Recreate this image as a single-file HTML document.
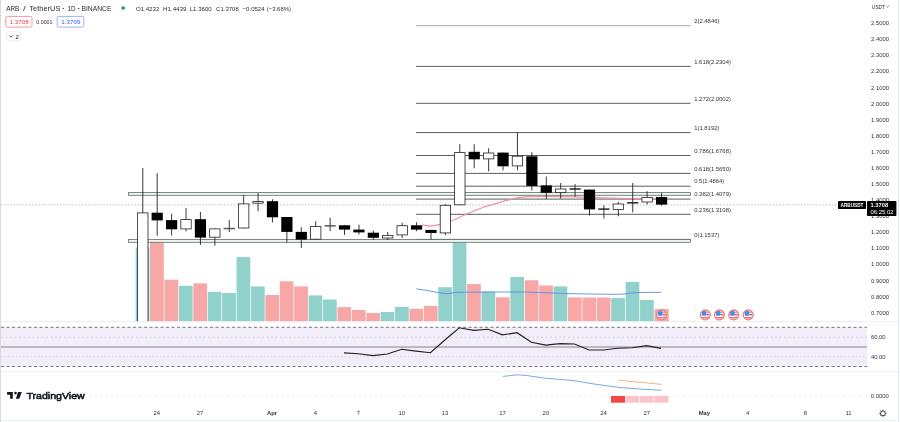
<!DOCTYPE html>
<html><head><meta charset="utf-8"><title>ARBUSDT chart</title>
<style>
html,body{margin:0;padding:0;background:#fff;width:900px;height:422px;overflow:hidden}
svg{display:block;will-change:transform}
text{font-family:"Liberation Sans", Arial, sans-serif}
</style></head><body>
<svg width="900" height="422" viewBox="0 0 900 422">
<rect x="0" y="0" width="900" height="422" fill="#ffffff"/>

<defs><clipPath id="mainclip"><rect x="1" y="0" width="866" height="321.5"/></clipPath></defs>
<g clip-path="url(#mainclip)">
<rect x="135.69" y="247.60" width="13.7" height="73.90" fill="#91d1cb"/>
<rect x="150.10" y="242.00" width="13.7" height="79.50" fill="#f7a7a6"/>
<rect x="164.51" y="279.70" width="13.7" height="41.80" fill="#f7a7a6"/>
<rect x="178.92" y="285.80" width="13.7" height="35.70" fill="#91d1cb"/>
<rect x="193.33" y="283.30" width="13.7" height="38.20" fill="#f7a7a6"/>
<rect x="207.74" y="291.80" width="13.7" height="29.70" fill="#91d1cb"/>
<rect x="222.15" y="293.00" width="13.7" height="28.50" fill="#91d1cb"/>
<rect x="236.56" y="257.10" width="13.7" height="64.40" fill="#91d1cb"/>
<rect x="250.97" y="286.40" width="13.7" height="35.10" fill="#91d1cb"/>
<rect x="265.38" y="295.00" width="13.7" height="26.50" fill="#f7a7a6"/>
<rect x="279.79" y="281.30" width="13.7" height="40.20" fill="#f7a7a6"/>
<rect x="294.20" y="286.40" width="13.7" height="35.10" fill="#f7a7a6"/>
<rect x="308.61" y="295.40" width="13.7" height="26.10" fill="#91d1cb"/>
<rect x="323.02" y="299.50" width="13.7" height="22.00" fill="#91d1cb"/>
<rect x="337.43" y="307.10" width="13.7" height="14.40" fill="#f7a7a6"/>
<rect x="351.84" y="310.00" width="13.7" height="11.50" fill="#f7a7a6"/>
<rect x="366.25" y="313.00" width="13.7" height="8.50" fill="#f7a7a6"/>
<rect x="380.66" y="312.00" width="13.7" height="9.50" fill="#91d1cb"/>
<rect x="395.07" y="306.90" width="13.7" height="14.60" fill="#91d1cb"/>
<rect x="409.48" y="308.80" width="13.7" height="12.70" fill="#f7a7a6"/>
<rect x="423.89" y="305.90" width="13.7" height="15.60" fill="#f7a7a6"/>
<rect x="438.30" y="287.20" width="13.7" height="34.30" fill="#91d1cb"/>
<rect x="452.71" y="242.50" width="13.7" height="79.00" fill="#91d1cb"/>
<rect x="467.12" y="284.00" width="13.7" height="37.50" fill="#f7a7a6"/>
<rect x="481.53" y="291.50" width="13.7" height="30.00" fill="#91d1cb"/>
<rect x="495.94" y="297.30" width="13.7" height="24.20" fill="#f7a7a6"/>
<rect x="510.35" y="277.00" width="13.7" height="44.50" fill="#91d1cb"/>
<rect x="524.76" y="280.20" width="13.7" height="41.30" fill="#f7a7a6"/>
<rect x="539.17" y="285.50" width="13.7" height="36.00" fill="#f7a7a6"/>
<rect x="553.58" y="286.40" width="13.7" height="35.10" fill="#91d1cb"/>
<rect x="567.99" y="297.40" width="13.7" height="24.10" fill="#f7a7a6"/>
<rect x="582.40" y="297.50" width="13.7" height="24.00" fill="#f7a7a6"/>
<rect x="596.81" y="297.50" width="13.7" height="24.00" fill="#f7a7a6"/>
<rect x="611.22" y="298.10" width="13.7" height="23.40" fill="#91d1cb"/>
<rect x="625.63" y="281.90" width="13.7" height="39.60" fill="#91d1cb"/>
<rect x="640.04" y="300.00" width="13.7" height="21.50" fill="#91d1cb"/>
<rect x="654.45" y="309.20" width="13.7" height="12.30" fill="#f7a7a6"/>
<polyline points="416.2,288.8 428.0,290.6 438.9,292.7 446.7,293.6 451.0,293.2 456.0,292.4 470.0,292.1 500.0,292.0 524.5,292.0 545.0,292.7 568.0,293.6 595.0,294.1 617.8,294.3 624.0,294.0 630.2,293.0 640.0,292.5 661.4,292.3" fill="none" stroke="#5a8de6" stroke-width="0.9"/>
<line x1="416" y1="25.6" x2="690.6" y2="25.6" stroke="#b8b8b8" stroke-width="1.3"/>
<line x1="416" y1="66.4" x2="690.6" y2="66.4" stroke="#4a4a4a" stroke-width="0.9"/>
<line x1="416" y1="103.3" x2="690.6" y2="103.3" stroke="#4a4a4a" stroke-width="0.9"/>
<line x1="416" y1="132.6" x2="690.6" y2="132.6" stroke="#4a4a4a" stroke-width="0.9"/>
<line x1="416" y1="155.5" x2="690.6" y2="155.5" stroke="#4a4a4a" stroke-width="0.9"/>
<line x1="416" y1="173.4" x2="690.6" y2="173.4" stroke="#4a4a4a" stroke-width="0.9"/>
<line x1="416" y1="186.2" x2="690.6" y2="186.2" stroke="#4a4a4a" stroke-width="0.9"/>
<line x1="416" y1="199.1" x2="690.6" y2="199.1" stroke="#4a4a4a" stroke-width="0.9"/>
<line x1="416" y1="214.3" x2="690.6" y2="214.3" stroke="#4a4a4a" stroke-width="0.9"/>
<line x1="416" y1="239.4" x2="690.6" y2="239.4" stroke="#4a4a4a" stroke-width="0.9"/>
<text x="694.2" y="22.8" font-size="5.9" fill="#333">2(2.4846)</text>
<text x="694.2" y="63.6" font-size="5.9" fill="#333">1.618(2.2304)</text>
<text x="694.2" y="100.5" font-size="5.9" fill="#333">1.272(2.0002)</text>
<text x="694.2" y="129.8" font-size="5.9" fill="#333">1(1.8192)</text>
<text x="694.2" y="152.7" font-size="5.9" fill="#333">0.786(1.6768)</text>
<text x="694.2" y="170.6" font-size="5.9" fill="#333">0.618(1.5650)</text>
<text x="694.2" y="183.4" font-size="5.9" fill="#333">0.5(1.4864)</text>
<text x="694.2" y="196.3" font-size="5.9" fill="#333">0.382(1.4079)</text>
<text x="694.2" y="211.5" font-size="5.9" fill="#333">0.236(1.3108)</text>
<text x="694.2" y="236.6" font-size="5.9" fill="#333">0(1.1537)</text>
<rect x="128.5" y="192.6" width="562" height="2.7" fill="#eef5f0" stroke="#5f6e66" stroke-width="0.8"/>
<rect x="128.5" y="239.5" width="562" height="2.8" fill="#eef5f0" stroke="#5f6e66" stroke-width="0.8"/>
<polyline points="422.1,225.1 430.2,226.2 439.5,224.7 452.0,220.8 466.0,214.2 484.6,206.8 503.3,201.3 518.9,197.4 534.4,196.4 550.0,196.3 575.0,196.8 596.0,197.6 620.0,198.4 640.0,198.9 661.0,199.1" fill="none" stroke="#ee8fa3" stroke-width="1.2"/>
<line x1="1" y1="204.9" x2="838" y2="204.9" stroke="#b4b4b4" stroke-width="0.8" stroke-dasharray="1.6,1.5"/>
<line x1="142.79" y1="168.1" x2="142.79" y2="330.0" stroke="#222" stroke-width="0.9"/>
<rect x="137.59" y="212.9" width="10.4" height="116.7" fill="#fff" stroke="#222" stroke-width="0.8"/>
<line x1="157.20" y1="173.2" x2="157.20" y2="235.8" stroke="#222" stroke-width="0.9"/>
<rect x="151.60" y="212.7" width="11.2" height="7.7" fill="#000"/>
<line x1="171.61" y1="213.8" x2="171.61" y2="235.5" stroke="#222" stroke-width="0.9"/>
<rect x="166.01" y="220.1" width="11.2" height="9.2" fill="#000"/>
<line x1="186.02" y1="208.0" x2="186.02" y2="231.5" stroke="#222" stroke-width="0.9"/>
<rect x="180.82" y="219.6" width="10.4" height="9.3" fill="#fff" stroke="#222" stroke-width="0.8"/>
<line x1="200.43" y1="212.0" x2="200.43" y2="245.0" stroke="#222" stroke-width="0.9"/>
<rect x="194.83" y="219.2" width="11.2" height="18.4" fill="#000"/>
<line x1="214.84" y1="228.5" x2="214.84" y2="245.8" stroke="#222" stroke-width="0.9"/>
<rect x="209.64" y="228.9" width="10.4" height="8.3" fill="#fff" stroke="#222" stroke-width="0.8"/>
<line x1="229.25" y1="220.0" x2="229.25" y2="232.0" stroke="#222" stroke-width="0.9"/>
<rect x="223.65" y="227.8" width="11.2" height="1.5" fill="#5a5a5a"/>
<line x1="243.66" y1="195.0" x2="243.66" y2="228.4" stroke="#222" stroke-width="0.9"/>
<rect x="238.46" y="203.9" width="10.4" height="24.1" fill="#fff" stroke="#222" stroke-width="0.8"/>
<line x1="258.07" y1="193.0" x2="258.07" y2="211.2" stroke="#222" stroke-width="0.9"/>
<rect x="252.87" y="201.6" width="10.4" height="1.5" fill="#fff" stroke="#222" stroke-width="0.8"/>
<line x1="272.48" y1="199.2" x2="272.48" y2="222.4" stroke="#222" stroke-width="0.9"/>
<rect x="266.88" y="201.2" width="11.2" height="16.1" fill="#000"/>
<line x1="286.89" y1="217.0" x2="286.89" y2="242.2" stroke="#222" stroke-width="0.9"/>
<rect x="281.29" y="217.0" width="11.2" height="14.9" fill="#000"/>
<line x1="301.30" y1="227.3" x2="301.30" y2="248.0" stroke="#222" stroke-width="0.9"/>
<rect x="295.70" y="231.9" width="11.2" height="7.7" fill="#000"/>
<line x1="315.71" y1="221.2" x2="315.71" y2="240.0" stroke="#222" stroke-width="0.9"/>
<rect x="310.51" y="226.6" width="10.4" height="12.6" fill="#fff" stroke="#222" stroke-width="0.8"/>
<line x1="330.12" y1="217.6" x2="330.12" y2="231.2" stroke="#222" stroke-width="0.9"/>
<rect x="324.52" y="225.1" width="11.2" height="1.5" fill="#5a5a5a"/>
<line x1="344.53" y1="225.0" x2="344.53" y2="235.0" stroke="#222" stroke-width="0.9"/>
<rect x="338.93" y="225.3" width="11.2" height="4.3" fill="#000"/>
<line x1="358.94" y1="224.7" x2="358.94" y2="234.5" stroke="#222" stroke-width="0.9"/>
<rect x="353.34" y="229.6" width="11.2" height="2.8" fill="#000"/>
<line x1="373.35" y1="230.7" x2="373.35" y2="239.6" stroke="#222" stroke-width="0.9"/>
<rect x="367.75" y="232.7" width="11.2" height="5.1" fill="#000"/>
<line x1="387.76" y1="232.0" x2="387.76" y2="240.0" stroke="#222" stroke-width="0.9"/>
<rect x="382.56" y="235.4" width="10.4" height="2.6" fill="#fff" stroke="#222" stroke-width="0.8"/>
<line x1="402.17" y1="222.7" x2="402.17" y2="238.1" stroke="#222" stroke-width="0.9"/>
<rect x="396.97" y="225.7" width="10.4" height="9.2" fill="#fff" stroke="#222" stroke-width="0.8"/>
<line x1="416.58" y1="222.2" x2="416.58" y2="231.2" stroke="#222" stroke-width="0.9"/>
<rect x="410.98" y="225.3" width="11.2" height="4.3" fill="#000"/>
<line x1="430.99" y1="229.9" x2="430.99" y2="239.6" stroke="#222" stroke-width="0.9"/>
<rect x="425.39" y="229.9" width="11.2" height="3.1" fill="#000"/>
<line x1="445.40" y1="203.9" x2="445.40" y2="235.2" stroke="#222" stroke-width="0.9"/>
<rect x="440.20" y="205.3" width="10.4" height="27.6" fill="#fff" stroke="#222" stroke-width="0.8"/>
<line x1="459.81" y1="144.2" x2="459.81" y2="205.2" stroke="#222" stroke-width="0.9"/>
<rect x="454.61" y="152.6" width="10.4" height="52.2" fill="#fff" stroke="#222" stroke-width="0.8"/>
<line x1="474.22" y1="144.2" x2="474.22" y2="168.3" stroke="#222" stroke-width="0.9"/>
<rect x="468.62" y="151.8" width="11.2" height="7.5" fill="#000"/>
<line x1="488.63" y1="148.2" x2="488.63" y2="171.4" stroke="#222" stroke-width="0.9"/>
<rect x="483.43" y="153.0" width="10.4" height="5.9" fill="#fff" stroke="#222" stroke-width="0.8"/>
<line x1="503.04" y1="152.6" x2="503.04" y2="170.4" stroke="#222" stroke-width="0.9"/>
<rect x="497.44" y="152.6" width="11.2" height="13.7" fill="#000"/>
<line x1="517.45" y1="132.6" x2="517.45" y2="170.4" stroke="#222" stroke-width="0.9"/>
<rect x="512.25" y="156.2" width="10.4" height="9.7" fill="#fff" stroke="#222" stroke-width="0.8"/>
<line x1="531.86" y1="152.2" x2="531.86" y2="190.5" stroke="#222" stroke-width="0.9"/>
<rect x="526.26" y="156.3" width="11.2" height="29.6" fill="#000"/>
<line x1="546.27" y1="176.5" x2="546.27" y2="199.1" stroke="#222" stroke-width="0.9"/>
<rect x="540.67" y="185.4" width="11.2" height="7.4" fill="#000"/>
<line x1="560.68" y1="183.0" x2="560.68" y2="198.5" stroke="#222" stroke-width="0.9"/>
<rect x="555.48" y="189.0" width="10.4" height="3.5" fill="#fff" stroke="#222" stroke-width="0.8"/>
<line x1="575.09" y1="184.2" x2="575.09" y2="196.7" stroke="#222" stroke-width="0.9"/>
<rect x="569.49" y="188.3" width="11.2" height="1.4" fill="#1a1a1a"/>
<line x1="589.50" y1="189.6" x2="589.50" y2="215.6" stroke="#222" stroke-width="0.9"/>
<rect x="583.90" y="189.6" width="11.2" height="19.8" fill="#000"/>
<line x1="603.91" y1="205.2" x2="603.91" y2="218.5" stroke="#222" stroke-width="0.9"/>
<rect x="598.31" y="208.4" width="11.2" height="1.4" fill="#1a1a1a"/>
<line x1="618.32" y1="202.0" x2="618.32" y2="216.3" stroke="#222" stroke-width="0.9"/>
<rect x="613.12" y="204.0" width="10.4" height="5.4" fill="#fff" stroke="#222" stroke-width="0.8"/>
<line x1="632.73" y1="183.0" x2="632.73" y2="212.4" stroke="#222" stroke-width="0.9"/>
<rect x="627.13" y="202.1" width="11.2" height="1.4" fill="#1a1a1a"/>
<line x1="647.14" y1="191.2" x2="647.14" y2="204.5" stroke="#222" stroke-width="0.9"/>
<rect x="641.94" y="197.4" width="10.4" height="4.6" fill="#fff" stroke="#222" stroke-width="0.8"/>
<line x1="661.55" y1="192.9" x2="661.55" y2="205.7" stroke="#222" stroke-width="0.9"/>
<rect x="655.95" y="197.0" width="11.2" height="7.6" fill="#000"/>
</g>
<defs><clipPath id="fc"><circle cx="0" cy="0" r="4.1"/></clipPath></defs>
<rect x="655.2" y="309.2" width="13.5" height="12.3" fill="#f7a7a6"/>
<g><circle cx="661.6" cy="314.9" r="4.9" fill="#fff" stroke="#ec7a84" stroke-width="1.3"/><g clip-path="url(#fc)" transform="translate(661.6,314.9)"><rect x="1.2" y="-3.2" width="3" height="1" fill="#ef6a6a"/><rect x="1.2" y="-0.9" width="3" height="1.5" fill="#e65a50"/><rect x="-4" y="2.1" width="8" height="1.5" fill="#ef6a6a"/><rect x="-3.6" y="-3.8" width="4.7" height="4.6" rx="1.2" fill="#3d8fe6"/></g></g>
<g><circle cx="705.3" cy="314.9" r="4.9" fill="#fff" stroke="#ec7a84" stroke-width="1.3"/><g clip-path="url(#fc)" transform="translate(705.3,314.9)"><rect x="1.2" y="-3.2" width="3" height="1" fill="#ef6a6a"/><rect x="1.2" y="-0.9" width="3" height="1.5" fill="#e65a50"/><rect x="-4" y="2.1" width="8" height="1.5" fill="#ef6a6a"/><rect x="-3.6" y="-3.8" width="4.7" height="4.6" rx="1.2" fill="#3d8fe6"/></g></g>
<g><circle cx="719.4" cy="314.9" r="4.9" fill="#fff" stroke="#ec7a84" stroke-width="1.3"/><g clip-path="url(#fc)" transform="translate(719.4,314.9)"><rect x="1.2" y="-3.2" width="3" height="1" fill="#ef6a6a"/><rect x="1.2" y="-0.9" width="3" height="1.5" fill="#e65a50"/><rect x="-4" y="2.1" width="8" height="1.5" fill="#ef6a6a"/><rect x="-3.6" y="-3.8" width="4.7" height="4.6" rx="1.2" fill="#3d8fe6"/></g></g>
<g><circle cx="733.7" cy="314.9" r="4.9" fill="#fff" stroke="#ec7a84" stroke-width="1.3"/><g clip-path="url(#fc)" transform="translate(733.7,314.9)"><rect x="1.2" y="-3.2" width="3" height="1" fill="#ef6a6a"/><rect x="1.2" y="-0.9" width="3" height="1.5" fill="#e65a50"/><rect x="-4" y="2.1" width="8" height="1.5" fill="#ef6a6a"/><rect x="-3.6" y="-3.8" width="4.7" height="4.6" rx="1.2" fill="#3d8fe6"/></g></g>
<g><circle cx="748.2" cy="314.9" r="4.9" fill="#fff" stroke="#ec7a84" stroke-width="1.3"/><g clip-path="url(#fc)" transform="translate(748.2,314.9)"><rect x="1.2" y="-3.2" width="3" height="1" fill="#ef6a6a"/><rect x="1.2" y="-0.9" width="3" height="1.5" fill="#e65a50"/><rect x="-4" y="2.1" width="8" height="1.5" fill="#ef6a6a"/><rect x="-3.6" y="-3.8" width="4.7" height="4.6" rx="1.2" fill="#3d8fe6"/></g></g>
<rect x="1" y="327.3" width="866" height="39.2" fill="#f1edf9"/>
<line x1="1" y1="327.3" x2="867" y2="327.3" stroke="#555" stroke-width="0.8" stroke-dasharray="3,2.5"/>
<line x1="1" y1="366.5" x2="867" y2="366.5" stroke="#555" stroke-width="0.8" stroke-dasharray="3,2.5"/>
<line x1="1" y1="337.2" x2="867" y2="337.2" stroke="#c9c3d3" stroke-width="0.7" stroke-dasharray="2,2.5"/>
<line x1="1" y1="356.6" x2="867" y2="356.6" stroke="#c9c3d3" stroke-width="0.7" stroke-dasharray="1.2,2.5"/>
<line x1="1" y1="347" x2="867" y2="347" stroke="#a9a6b0" stroke-width="1.3"/>
<polyline points="344.0,352.9 358.4,353.8 372.9,355.6 387.3,354.0 401.7,349.3 416.1,351.1 430.5,352.7 444.9,340.0 459.3,327.8 473.7,330.4 488.1,329.3 502.5,334.9 517.0,332.7 531.4,342.2 545.8,345.1 560.2,343.6 574.6,344.0 589.0,350.0 603.4,350.0 617.8,348.2 632.2,347.8 646.6,345.6 661.0,348.4" fill="none" stroke="#222" stroke-width="1.15"/>
<line x1="1" y1="396" x2="867" y2="396" stroke="#e4e4e4" stroke-width="0.7" stroke-dasharray="2.5,3"/>
<polyline points="503.0,376.4 517.3,374.8 526.7,375.5 545.0,378.2 573.0,380.5 596.6,384.4 620.0,387.5 640.0,389.0 661.6,390.3" fill="none" stroke="#5b8ee6" stroke-width="0.8"/>
<polyline points="618.0,380.0 632.0,381.6 647.0,382.9 661.6,384.4" fill="none" stroke="#f5a25a" stroke-width="0.8"/>
<rect x="611" y="396" width="14" height="6.7" fill="#f44848"/>
<rect x="625.4" y="396" width="13.6" height="6.7" fill="#fbc4cc"/>
<rect x="639.8" y="396" width="13.8" height="6.7" fill="#fbc4cc"/>
<rect x="654.2" y="396" width="14.2" height="6.7" fill="#fbc4cc"/>
<rect x="1" y="389" width="88" height="14" fill="#fff"/>
<g fill="#131722"><path d="M7.1 391.9H12.8V398.8H10.1V394.7H7.1Z"/><circle cx="15.5" cy="393.1" r="1.3"/><path d="M18 391.9H21.8L19.3 398.8H15.9Z"/></g>
<text x="26.4" y="398.9" font-size="9.4" fill="#131722" stroke="#131722" stroke-width="0.55" textLength="58.4" lengthAdjust="spacingAndGlyphs">TradingView</text>
<line x1="0.5" y1="0" x2="0.5" y2="422" stroke="#d9dbe0" stroke-width="1"/>
<line x1="898.6" y1="0" x2="898.6" y2="422" stroke="#e0e3eb" stroke-width="1"/>
<line x1="1" y1="321.6" x2="898" y2="321.6" stroke="#e6e8ee" stroke-width="0.8"/>
<line x1="1" y1="371.8" x2="898" y2="371.8" stroke="#e6e8ee" stroke-width="0.8"/>
<line x1="1" y1="420.6" x2="898" y2="420.6" stroke="#e6e8ee" stroke-width="0.8"/>
<text x="872" y="8.6" font-size="5.6" fill="#131722" textLength="12.8" lengthAdjust="spacingAndGlyphs">USDT</text>
<path d="M886.4 6l1.2 1.2 1.2-1.2" fill="none" stroke="#131722" stroke-width="0.6"/>
<text x="871" y="25.2" font-size="5.9" fill="#333">2.5000</text>
<text x="871" y="41.3" font-size="5.9" fill="#333">2.4000</text>
<text x="871" y="57.4" font-size="5.9" fill="#333">2.3000</text>
<text x="871" y="73.4" font-size="5.9" fill="#333">2.2000</text>
<text x="871" y="89.5" font-size="5.9" fill="#333">2.1000</text>
<text x="871" y="105.6" font-size="5.9" fill="#333">2.0000</text>
<text x="871" y="121.7" font-size="5.9" fill="#333">1.9000</text>
<text x="871" y="137.8" font-size="5.9" fill="#333">1.8000</text>
<text x="871" y="153.8" font-size="5.9" fill="#333">1.7000</text>
<text x="871" y="169.9" font-size="5.9" fill="#333">1.6000</text>
<text x="871" y="186.0" font-size="5.9" fill="#333">1.5000</text>
<text x="871" y="202.1" font-size="5.9" fill="#333">1.4000</text>
<text x="871" y="218.2" font-size="5.9" fill="#333">1.3000</text>
<text x="871" y="234.2" font-size="5.9" fill="#333">1.2000</text>
<text x="871" y="250.3" font-size="5.9" fill="#333">1.1000</text>
<text x="871" y="266.4" font-size="5.9" fill="#333">1.0000</text>
<text x="871" y="282.5" font-size="5.9" fill="#333">0.9000</text>
<text x="871" y="298.6" font-size="5.9" fill="#333">0.8000</text>
<text x="871" y="314.6" font-size="5.9" fill="#333">0.7000</text>
<text x="870.9" y="339.4" font-size="5.9" fill="#333">60.00</text>
<text x="870.9" y="358.8" font-size="5.9" fill="#333">40.00</text>
<text x="870.8" y="398.1" font-size="5.9" fill="#333">0.0000</text>
<rect x="838" y="201" width="28" height="8" rx="0.8" fill="#000"/>
<text x="852" y="207.1" font-size="5.6" font-weight="bold" fill="#fff" text-anchor="middle" textLength="23" lengthAdjust="spacingAndGlyphs">ARBUSDT</text>
<rect x="867" y="201" width="29.4" height="15" rx="0.8" fill="#000"/>
<text x="870.5" y="207.1" font-size="5.9" font-weight="bold" fill="#fff" textLength="17.6" lengthAdjust="spacingAndGlyphs">1.3708</text>
<text x="870.5" y="214.2" font-size="5.9" fill="#fff">06:25:02</text>
<text x="156.8" y="414.6" font-size="5.9" fill="#333" text-anchor="middle">24</text>
<text x="200.0" y="414.6" font-size="5.9" fill="#333" text-anchor="middle">27</text>
<text x="272.1" y="414.6" font-size="5.9" fill="#333" text-anchor="middle" font-weight="bold">Apr</text>
<text x="315.3" y="414.6" font-size="5.9" fill="#333" text-anchor="middle">4</text>
<text x="358.5" y="414.6" font-size="5.9" fill="#333" text-anchor="middle">7</text>
<text x="401.8" y="414.6" font-size="5.9" fill="#333" text-anchor="middle">10</text>
<text x="445.0" y="414.6" font-size="5.9" fill="#333" text-anchor="middle">13</text>
<text x="502.6" y="414.6" font-size="5.9" fill="#333" text-anchor="middle">17</text>
<text x="545.9" y="414.6" font-size="5.9" fill="#333" text-anchor="middle">20</text>
<text x="603.5" y="414.6" font-size="5.9" fill="#333" text-anchor="middle">24</text>
<text x="646.7" y="414.6" font-size="5.9" fill="#333" text-anchor="middle">27</text>
<text x="704.4" y="414.6" font-size="5.9" fill="#333" text-anchor="middle" font-weight="bold">May</text>
<text x="747.6" y="414.6" font-size="5.9" fill="#333" text-anchor="middle">4</text>
<text x="805.3" y="414.6" font-size="5.9" fill="#333" text-anchor="middle">8</text>
<text x="848.5" y="414.6" font-size="5.9" fill="#333" text-anchor="middle">11</text>
<g transform="translate(882.9,413.3)" fill="none" stroke="#222" stroke-width="0.8"><circle r="2.4"/><path d="M0 -3.6v1.2M0 2.4v1.2M-3.6 0h1.2M2.4 0h1.2M-2.5 -2.5l.85 .85M1.65 1.65l.85 .85M-2.5 2.5l.85 -.85M1.65 -1.65l.85 -.85"/></g>
<text x="6.2" y="10.9" font-size="6.7" fill="#2a2e39" textLength="13.2" lengthAdjust="spacingAndGlyphs">ARB</text>
<text x="23.1" y="10.9" font-size="6.7" fill="#2a2e39" textLength="2.7" lengthAdjust="spacingAndGlyphs">/</text>
<text x="29.3" y="10.9" font-size="6.7" fill="#2a2e39" textLength="31.1" lengthAdjust="spacingAndGlyphs">TetherUS</text>
<rect x="62.6" y="7.9" width="1.3" height="1.1" fill="#444"/>
<text x="67.4" y="10.9" font-size="6.7" fill="#2a2e39" textLength="8.2" lengthAdjust="spacingAndGlyphs">1D</text>
<rect x="77.9" y="7.9" width="1.3" height="1.1" fill="#444"/>
<text x="81.4" y="10.9" font-size="6.7" fill="#2a2e39" textLength="30.0" lengthAdjust="spacingAndGlyphs">BINANCE</text>
<circle cx="123.2" cy="8" r="2.4" fill="#c8ebe3"/>
<circle cx="123.2" cy="8" r="1.6" fill="#089981"/>
<text x="135.9" y="10.8" font-size="6.1" fill="#2a2e39" textLength="23.4" lengthAdjust="spacingAndGlyphs">O1.4232</text>
<text x="163.0" y="10.8" font-size="6.1" fill="#2a2e39" textLength="23.5" lengthAdjust="spacingAndGlyphs">H1.4439</text>
<text x="189.7" y="10.8" font-size="6.1" fill="#2a2e39" textLength="22.0" lengthAdjust="spacingAndGlyphs">L1.3600</text>
<text x="216.1" y="10.8" font-size="6.1" fill="#2a2e39" textLength="22.7" lengthAdjust="spacingAndGlyphs">C1.3708</text>
<text x="242.6" y="10.8" font-size="6.1" fill="#2a2e39" textLength="22.0" lengthAdjust="spacingAndGlyphs">−0.0524</text>
<text x="266.7" y="10.8" font-size="6.1" fill="#2a2e39" textLength="24.3" lengthAdjust="spacingAndGlyphs">(−3.68%)</text>
<rect x="5.8" y="16.4" width="26.2" height="10.7" rx="1.6" fill="#fff" stroke="#f07f86" stroke-width="0.8"/>
<text x="9.7" y="24.0" font-size="5.8" fill="#f23645" textLength="18.9" lengthAdjust="spacingAndGlyphs">1.3708</text>
<text x="36.3" y="24.0" font-size="5.8" fill="#333" textLength="16.2" lengthAdjust="spacingAndGlyphs">0.0001</text>
<rect x="57.2" y="16.4" width="26.6" height="10.7" rx="1.6" fill="#fff" stroke="#7d9ff0" stroke-width="0.8"/>
<text x="61.3" y="24.0" font-size="5.8" fill="#2962ff" textLength="19.2" lengthAdjust="spacingAndGlyphs">1.3709</text>
<rect x="6.9" y="31.9" width="13.9" height="8.9" rx="1.2" fill="#fff" stroke="#e0e3eb" stroke-width="0.7"/>
<path d="M9.5 35.6l1.6 1.5 1.6-1.5" fill="none" stroke="#131722" stroke-width="0.75"/>
<text x="15.6" y="38.6" font-size="6.1" fill="#131722">2</text>
</svg></body></html>
